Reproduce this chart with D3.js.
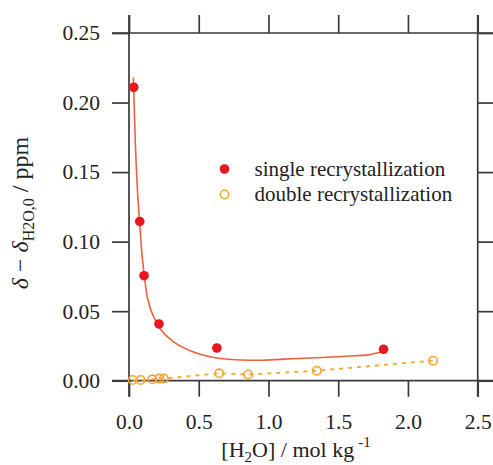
<!DOCTYPE html>
<meta charset="utf-8">
<style>
body { margin: 0; background: #fff; }
text { font-family: "Liberation Serif", "Times New Roman", serif; fill: #222; }
</style>
<svg width="493" height="465"></svg>
<script src="https://d3js.org/d3.v7.min.js"></script>
<script>

// single recrystallization (filled red)
var singleX = [0.034, 0.077, 0.108, 0.215, 0.63, 1.825];
var singleY = [0.211, 0.1145, 0.0755, 0.0408, 0.0235, 0.0226];
// double recrystallization (open orange)
var doubleX = [0.026, 0.084, 0.167, 0.217, 0.25, 0.646, 0.855, 1.346, 2.18];
var doubleY = [0.0005, 0.0005, 0.001, 0.0015, 0.0015, 0.0053, 0.0045, 0.0072, 0.0144];
// fitted curve for the single series
var fitX = [0.031, 0.045, 0.06, 0.077, 0.092, 0.108, 0.127, 0.15, 0.174, 0.222, 0.318, 0.438, 0.557, 0.676, 0.796, 0.94, 1.107, 1.346, 1.585, 1.70, 1.80];
var fitY = [0.218, 0.172, 0.138, 0.113, 0.092, 0.077, 0.0625, 0.053, 0.0465, 0.0377, 0.0281, 0.0216, 0.0178, 0.0158, 0.0149, 0.0147, 0.0155, 0.0165, 0.0178, 0.0184, 0.0205];

var xTicks = [0, 0.5, 1.0, 1.5, 2.0, 2.5];
var yTicks = [0, 0.05, 0.10, 0.15, 0.20, 0.25];
var legendNames = ["single recrystallization", "double recrystallization"];

var svg = d3.select("svg"),
    plotL = 129, plotR = 477.7, plotT = 33, plotB = 380.7,
    tick = 17;

var x = d3.scaleLinear().domain([0, 2.5]).range([plotL, plotR]);
var y = d3.scaleLinear().domain([0, 0.25]).range([plotB, plotT]);

var axisColor = "#3a3a3a";
var serif = "'Liberation Serif', 'Times New Roman', serif";

// axes, every side ticks outward, no domain path (drawn by hand below)
svg.append("g")
    .attr("transform", "translate(" + plotL + ",0)")
    .call(d3.axisLeft(y).tickValues(yTicks).tickFormat(d3.format(".2f")).tickSize(tick).tickPadding(12));
svg.append("g")
    .attr("transform", "translate(" + plotR + ",0)")
    .call(d3.axisRight(y).tickValues(yTicks).tickFormat("").tickSize(tick));
svg.append("g")
    .attr("transform", "translate(0," + plotB + ")")
    .call(d3.axisBottom(x).tickValues(xTicks).tickFormat(d3.format(".1f")).tickSize(16).tickPadding(17));
svg.append("g")
    .attr("transform", "translate(0," + plotT + ")")
    .call(d3.axisTop(x).tickValues(xTicks).tickFormat("").tickSize(18));

svg.selectAll(".domain").remove();
svg.selectAll(".tick line").attr("stroke", axisColor).attr("stroke-width", 1.7);
svg.selectAll(".tick text")
    .style("font-family", serif)
    .style("font-size", "21.5px").attr("fill", "#222");

// box lines that run past the corners
var box = [
  [plotL, plotT - 18, plotL, plotB + 16],
  [plotR, plotT - 18, plotR, plotB + 16],
  [plotL - tick, plotT, 493, plotT],
  [plotL - tick, plotB, 493, plotB]
];
svg.selectAll(".boxline").data(box).enter().append("line")
    .attr("x1", d => d[0]).attr("y1", d => d[1])
    .attr("x2", d => d[2]).attr("y2", d => d[3])
    .attr("stroke", axisColor).attr("stroke-width", 1.7);

// double: dashed line + open circles
var dbl = doubleX.map((v, i) => [v, doubleY[i]]);
svg.append("path")
    .datum(dbl)
    .attr("fill", "none")
    .attr("stroke", "#f6ac3c")
    .attr("stroke-width", 2)
    .attr("stroke-dasharray", "4,5")
    .attr("d", d3.line().x(d => x(d[0])).y(d => y(d[1])));

svg.selectAll(".dbl").data(dbl).enter().append("circle")
    .attr("cx", d => x(d[0])).attr("cy", d => y(d[1]))
    .attr("r", 4.2)
    .attr("fill", "none")
    .attr("stroke", "#f6a530")
    .attr("stroke-width", 1.6);

// single: fitted curve + filled dots
var fit = fitX.map((v, i) => [v, fitY[i]]);
svg.append("path")
    .datum(fit)
    .attr("fill", "none")
    .attr("stroke", "#f0603e")
    .attr("stroke-width", 1.6)
    .attr("d", d3.line().curve(d3.curveMonotoneX).x(d => x(d[0])).y(d => y(d[1])));

var sgl = singleX.map((v, i) => [v, singleY[i]]);
svg.selectAll(".sgl").data(sgl).enter().append("circle")
    .attr("cx", d => x(d[0])).attr("cy", d => y(d[1]))
    .attr("r", 4.8)
    .attr("fill", "#e8161e");

// legend
var lg = svg.append("g");
lg.append("circle").attr("cx", 224.5).attr("cy", 169).attr("r", 4.8).attr("fill", "#e8161e");
lg.append("circle").attr("cx", 224.5).attr("cy", 194.5).attr("r", 4.2)
    .attr("fill", "none").attr("stroke", "#f6a530").attr("stroke-width", 1.6);
lg.selectAll("text").data(legendNames).enter().append("text")
    .attr("x", 254.5)
    .attr("y", (d, i) => 175.5 + i * 25.5)
    .style("font-family", serif)
    .style("font-size", "21px")
    .text(d => d);

// y label: squeeze along its length to the reference's 157px
var ylg = svg.append("g").attr("transform", "translate(28,213) rotate(-90)");
var yl = ylg.append("text")
    .attr("text-anchor", "middle")
    .style("font-family", serif)
    .style("font-size", "24px");
yl.append("tspan").style("font-style", "italic").text("δ");
yl.append("tspan").text(" − ");
yl.append("tspan").style("font-style", "italic").text("δ");
yl.append("tspan").attr("dy", 6).style("font-size", "16px").text("H2O,0");
yl.append("tspan").attr("dy", -6).text(" / ppm");
var yLen = yl.node().getComputedTextLength();
yl.attr("transform", "scale(" + Math.min(1, 157 / yLen) + ",1)");

// x label
var xl = svg.append("text")
    .attr("x", 296).attr("y", 457)
    .attr("text-anchor", "middle")
    .style("font-family", serif)
    .style("font-size", "22px");
xl.append("tspan").text("[H");
xl.append("tspan").attr("dy", 5).style("font-size", "15px").text("2");
xl.append("tspan").attr("dy", -5).text("O] / mol kg");
xl.append("tspan").attr("dy", -10).attr("dx", 4).style("font-size", "15px").text("-1");

</script>
